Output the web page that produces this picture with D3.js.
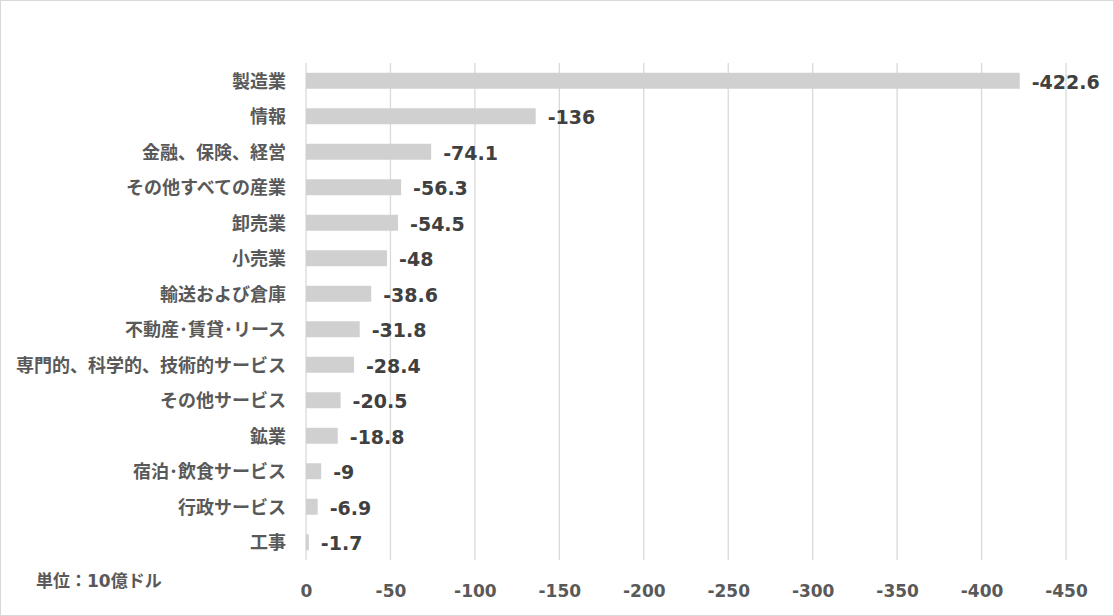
<!DOCTYPE html>
<html><head><meta charset="utf-8">
<script src="https://cdn.jsdelivr.net/npm/d3@7/dist/d3.min.js"></script>
<style>
html,body{margin:0;padding:0;background:#fff;}
svg{display:block;}
text{font-family:"DejaVu Sans","Noto Sans CJK JP",sans-serif;font-weight:bold;}
</style></head><body>
<script>
const categories = ["製造業","情報","金融、保険、経営","その他すべての産業","卸売業","小売業","輸送および倉庫","不動産･賃貸･リース","専門的、科学的、技術的サービス","その他サービス","鉱業","宿泊･飲食サービス","行政サービス","工事"];
const values = [-422.6,-136,-74.1,-56.3,-54.5,-48,-38.6,-31.8,-28.4,-20.5,-18.8,-9,-6.9,-1.7];
const tickValues = [0,-50,-100,-150,-200,-250,-300,-350,-400,-450];
const unitLabel = "単位：10億ドル";

const W=1114,H=616;
const svg=d3.select("body").append("svg").attr("width",W).attr("height",H);
svg.append("rect").attr("x",0.5).attr("y",0.5).attr("width",W-1).attr("height",H-1)
  .attr("fill","#fff").attr("stroke","#d9d9d9").attr("stroke-width",1);

const m={left:306,right:1066,top:63,bottom:560};
const x=d3.scaleLinear().domain([0,-450]).range([m.left,m.right]);
const y=d3.scaleBand().domain(categories).range([m.top,m.bottom]).paddingInner(0.55).paddingOuter(0.275);

// gridlines
svg.append("g").selectAll("line").data(tickValues).join("line")
  .attr("x1",d=>x(d)).attr("x2",d=>x(d)).attr("y1",m.top).attr("y2",m.bottom)
  .attr("stroke","#d9d9d9").attr("stroke-width",1.3);

// bars
svg.append("g").selectAll("rect").data(values).join("rect")
  .attr("x",x(0)).attr("y",(d,i)=>y(categories[i]))
  .attr("width",d=>x(d)-x(0)).attr("height",y.bandwidth())
  .attr("fill","#d0d0d0");

// value labels
svg.append("g").selectAll("text").data(values).join("text")
  .attr("x",d=>x(d)+12).attr("y",(d,i)=>y(categories[i])+y.bandwidth()/2+1)
  .attr("dy","0.36em").attr("font-size",19).attr("fill","#404040")
  .text(d=>d);

// category axis labels
const yAxis=d3.axisLeft(y).tickSize(0).tickPadding(20);
const gy=svg.append("g").attr("transform",`translate(${m.left},0)`).call(yAxis);
gy.select(".domain").remove();
gy.selectAll("text").attr("font-size",18).attr("fill","#595959").attr("dy","0.4em")
  .style("font-family",'"DejaVu Sans","Noto Sans CJK JP",sans-serif').style("font-weight","bold");

// x axis
const xAxis=d3.axisBottom(x).tickValues(tickValues).tickSize(0).tickPadding(25).tickFormat(d=>d);
const gx=svg.append("g").attr("transform",`translate(0,${m.bottom})`).call(xAxis);
gx.select(".domain").remove();
gx.selectAll("text").attr("font-size",17).attr("fill","#595959")
  .style("font-family",'"DejaVu Sans",sans-serif').style("font-weight","bold");

svg.append("text").attr("x",36).attr("y",587).attr("font-size",17).attr("fill","#595959").text(unitLabel);
</script>
</body></html>
